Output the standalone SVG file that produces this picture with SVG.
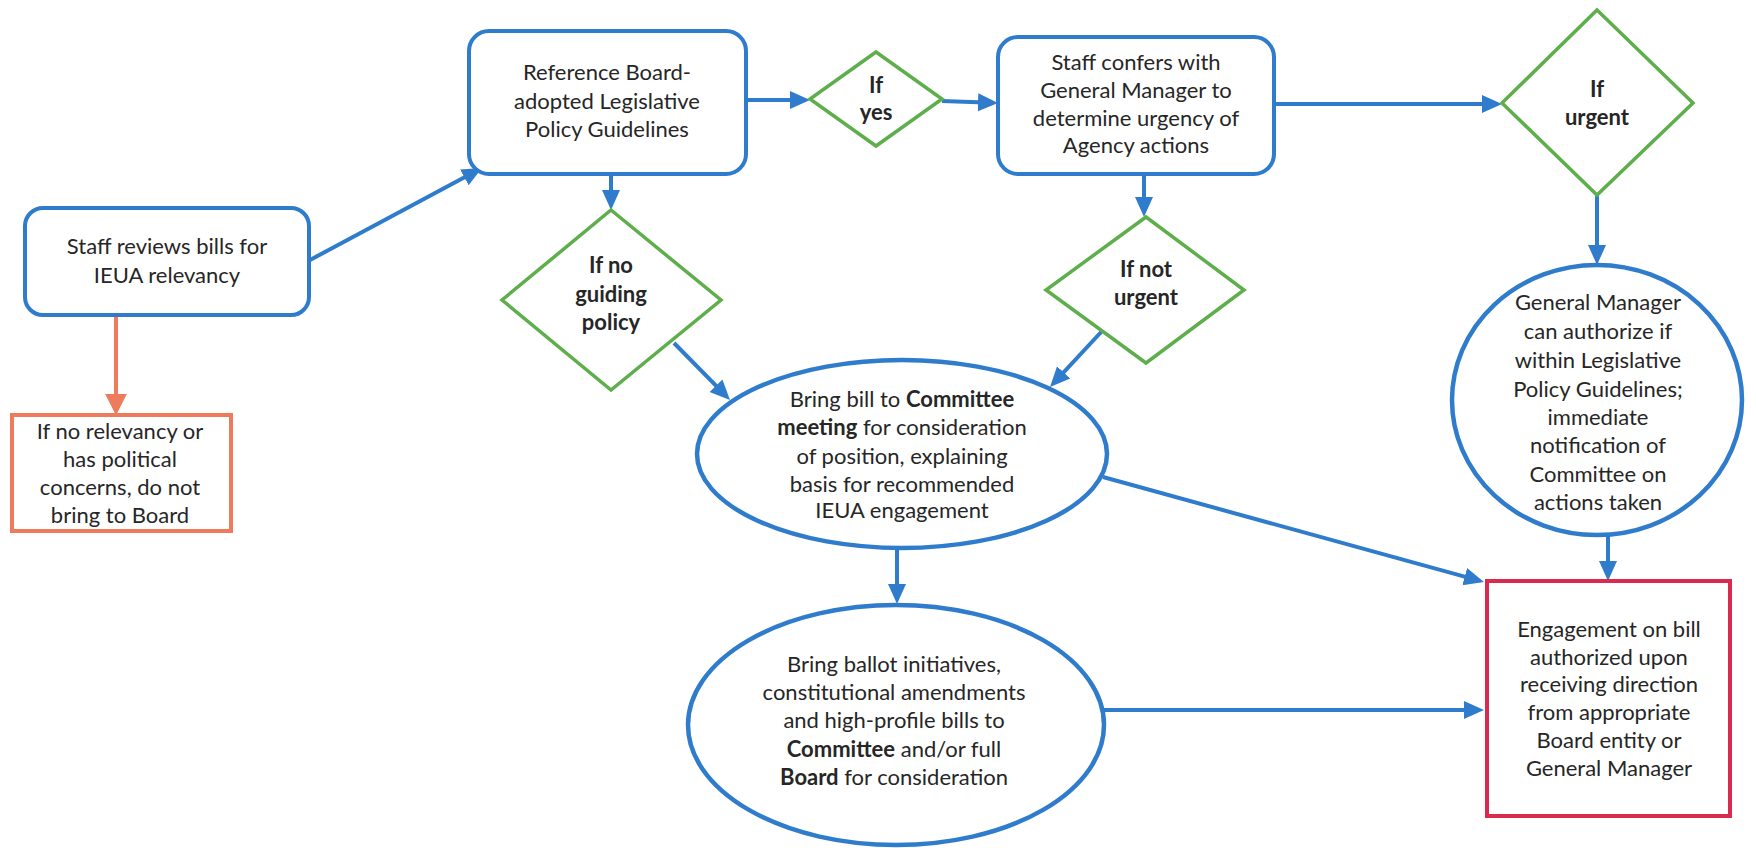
<svg xmlns="http://www.w3.org/2000/svg" width="1756" height="848" viewBox="0 0 1756 848">
<defs>
<style>
text{font-family:Lato,"Open Sans","Liberation Sans",sans-serif;font-size:22px;fill:#262626;text-anchor:middle}
.b{font-weight:700}
.box{fill:#fff;stroke:#2F7CCD;stroke-width:4}
.dia{fill:#fff;stroke:#5EAE4C;stroke-width:3.5}
.ell{fill:#fff;stroke:#2F7CCD;stroke-width:4.5}
.con{stroke:#2F7CCD;stroke-width:4;fill:none;marker-end:url(#ab)}
.conO{stroke:#EE7B5B;stroke-width:4;fill:none;marker-end:url(#ao)}
</style>
<marker id="ab" viewBox="0 0 20 20" refX="14" refY="10" markerWidth="20" markerHeight="20" markerUnits="userSpaceOnUse" orient="auto"><path d="M0,1 L20,10 L0,19 z" fill="#2F7CCD"/></marker>
<marker id="ao" viewBox="0 0 20 20" refX="14" refY="10" markerWidth="22" markerHeight="22" markerUnits="userSpaceOnUse" orient="auto"><path d="M0,0 L20,10 L0,20 z" fill="#EE7B5B"/></marker>
</defs>
<rect width="1756" height="848" fill="#fff"/>
<g id="connectors">
<path class="conO" d="M116,315 L116,409"/>
<path class="con" d="M310,260 L476.7,170.8"/>
<path class="con" d="M746,100 L804,100"/>
<path class="con" d="M942,101 L992,102.8"/>
<path class="con" d="M1274,104 L1496,104"/>
<path class="con" d="M1597,195 L1597,259"/>
<path class="con" d="M1608,535 L1608,575"/>
<path class="con" d="M611,174 L611,204"/>
<path class="con" d="M674,343 L725.8,395.7"/>
<path class="con" d="M1144,174 L1144,211"/>
<path class="con" d="M1103,330 L1054.1,382.6"/>
<path class="con" d="M897,548 L897,598"/>
<path class="con" d="M1103,477 L1478.2,580.4"/>
<path class="con" d="M1104,710 L1478,710"/>
</g>
<g id="n1">
<rect class="box" x="25" y="208" width="284" height="107" rx="18"/>
<text x="167" y="254">Staff reviews bills for</text>
<text x="167" y="283">IEUA relevancy</text>
</g>
<g id="n2">
<rect x="12" y="415" width="219" height="116" fill="#fff" stroke="#EE7B5B" stroke-width="4"/>
<text x="120" y="439">If no relevancy or</text>
<text x="120" y="467">has political</text>
<text x="120" y="495">concerns, do not</text>
<text x="120" y="523">bring to Board</text>
</g>
<g id="n3">
<rect class="box" x="469" y="31" width="277" height="143" rx="20"/>
<text x="607" y="80">Reference Board-</text>
<text x="607" y="109">adopted Legislative</text>
<text x="607" y="137">Policy Guidelines</text>
</g>
<g id="n4">
<polygon class="dia" points="876,52 942,99 876,146 810,99"/>
<text class="b" x="876" y="93">If</text>
<text class="b" x="876" y="120">yes</text>
</g>
<g id="n5">
<rect class="box" x="998" y="37" width="276" height="137" rx="20"/>
<text x="1136" y="70">Staff confers with</text>
<text x="1136" y="98">General Manager to</text>
<text x="1136" y="126">determine urgency of</text>
<text x="1136" y="153">Agency actions</text>
</g>
<g id="n6">
<polygon class="dia" points="1597,10 1693,103 1597,195 1502,103"/>
<text class="b" x="1597" y="97">If</text>
<text class="b" x="1597" y="125">urgent</text>
</g>
<g id="n7">
<polygon class="dia" points="611,210 721,300 611,390 502,300"/>
<text class="b" x="611" y="273">If no</text>
<text class="b" x="611" y="302">guiding</text>
<text class="b" x="611" y="330">policy</text>
</g>
<g id="n8">
<polygon class="dia" points="1146,217 1244,290 1146,363 1046,290"/>
<text class="b" x="1146" y="277">If not</text>
<text class="b" x="1146" y="305">urgent</text>
</g>
<g id="n9">
<ellipse class="ell" cx="902" cy="454" rx="205" ry="94"/>
<text x="902" y="407">Bring bill to <tspan class="b">Committee</tspan></text>
<text x="902" y="435"><tspan class="b">meeting</tspan> for consideration</text>
<text x="902" y="464">of position, explaining</text>
<text x="902" y="492">basis for recommended</text>
<text x="902" y="518">IEUA engagement</text>
</g>
<g id="n10">
<ellipse class="ell" cx="1597" cy="400" rx="145" ry="135"/>
<text x="1598" y="310">General Manager</text>
<text x="1598" y="339">can authorize if</text>
<text x="1598" y="368">within Legislative</text>
<text x="1598" y="397">Policy Guidelines;</text>
<text x="1598" y="425">immediate</text>
<text x="1598" y="453">notification of</text>
<text x="1598" y="482">Committee on</text>
<text x="1598" y="510">actions taken</text>
</g>
<g id="n11">
<ellipse class="ell" cx="896" cy="725" rx="208" ry="120"/>
<text x="894" y="672">Bring ballot initiatives,</text>
<text x="894" y="700">constitutional amendments</text>
<text x="894" y="728">and high-profile bills to</text>
<text x="894" y="757"><tspan class="b">Committee</tspan> and/or full</text>
<text x="894" y="785"><tspan class="b">Board</tspan> for consideration</text>
</g>
<g id="n12">
<rect x="1487" y="581" width="243" height="235" fill="#fff" stroke="#DA2A4E" stroke-width="4"/>
<text x="1609" y="637">Engagement on bill</text>
<text x="1609" y="665">authorized upon</text>
<text x="1609" y="692">receiving direction</text>
<text x="1609" y="720">from appropriate</text>
<text x="1609" y="748">Board entity or</text>
<text x="1609" y="776">General Manager</text>
</g>
</svg>
